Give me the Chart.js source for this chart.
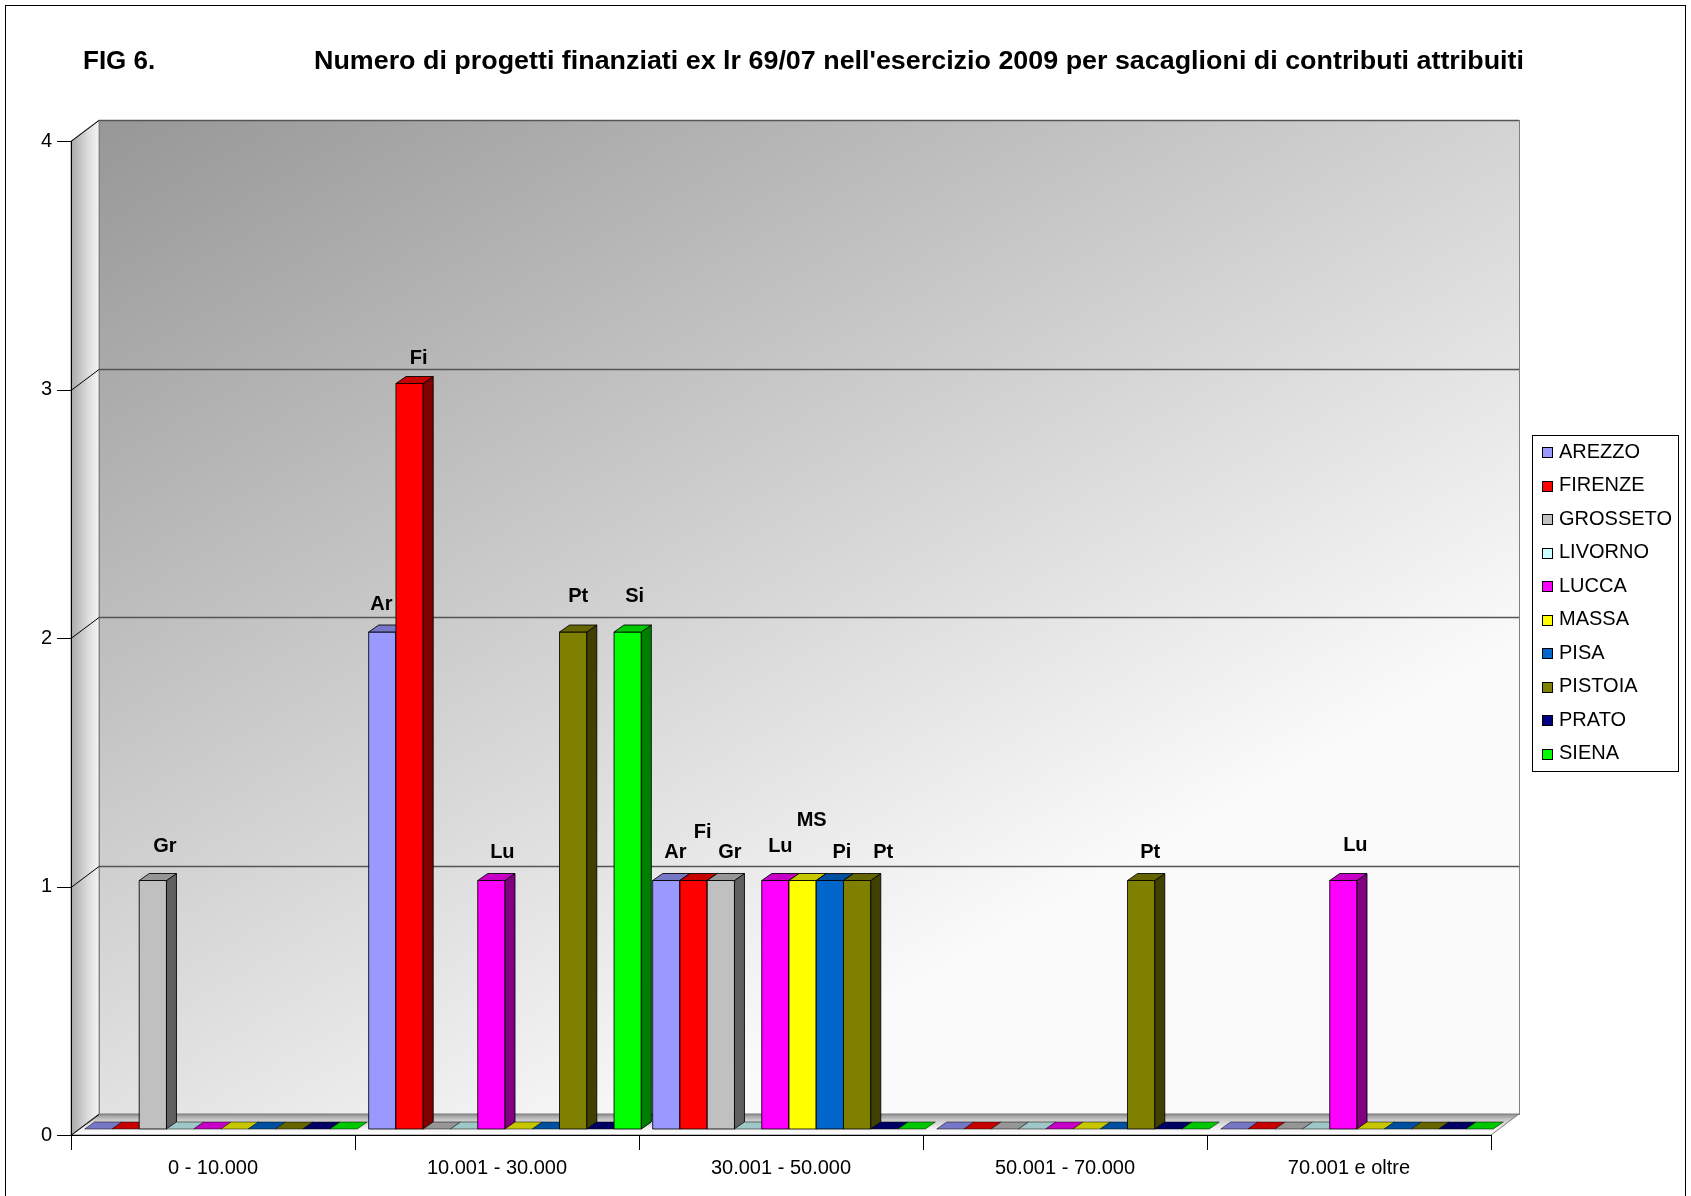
<!DOCTYPE html>
<html>
<head>
<meta charset="utf-8">
<script src="https://cdn.jsdelivr.net/npm/chart.js@4.4.1/dist/chart.umd.min.js"></script>
<style>
  html, body { margin: 0; padding: 0; background: #fff; }
</style>
</head>
<body>
<canvas id="fig6" width="1691" height="1196"></canvas>
<script>
// --- data ---
const categories = ['0 - 10.000', '10.001 - 30.000', '30.001 - 50.000', '50.001 - 70.000', '70.001 e oltre'];
const provinces = ['AREZZO', 'FIRENZE', 'GROSSETO', 'LIVORNO', 'LUCCA', 'MASSA', 'PISA', 'PISTOIA', 'PRATO', 'SIENA'];
const shortNames = ['Ar', 'Fi', 'Gr', 'Li', 'Lu', 'MS', 'Pi', 'Pt', 'Pr', 'Si'];
const colors = ['#9999FF', '#FF0000', '#C0C0C0', '#CCFFFF', '#FF00FF', '#FFFF00', '#0066CC', '#808000', '#000080', '#00FF00'];

const arezzo   = [0, 2, 1, 0, 0];
const firenze  = [0, 3, 1, 0, 0];
const grosseto = [1, 0, 1, 0, 0];
const livorno  = [0, 0, 0, 0, 0];
const lucca    = [0, 1, 1, 0, 1];
const massa    = [0, 0, 1, 0, 0];
const pisa     = [0, 0, 1, 0, 0];
const pistoia  = [0, 2, 1, 1, 0];
const prato    = [0, 0, 0, 0, 0];
const siena    = [0, 2, 0, 0, 0];
const seriesValues = [arezzo, firenze, grosseto, livorno, lucca, massa, pisa, pistoia, prato, siena];

const yTicks = [0, 1, 2, 3, 4];

const titleLeft = 'FIG 6.';
const titleText = "Numero di progetti finanziati ex lr 69/07 nell'esercizio 2009 per sacaglioni di contributi attribuiti";

// a few value labels were nudged by hand in the original ('series,category' -> [dx, lift] px)
const labelNudge = {
    '2,0': [3, 6],
    '0,1': [-10, 0], '1,1': [0, -3], '4,1': [2, 0], '7,1': [-4, 8], '9,1': [-2, 8],
    '1,2': [0, 20], '4,2': [-4, 6], '5,2': [0, 32], '6,2': [3, 0], '7,2': [17, 0],
    '4,4': [3, 7]
};

// 3d geometry
const WALL_DX = 28, WALL_DY = -21;   // depth of the back wall
const BAR_OX = 8, BAR_OY = -6;       // bars sit a bit behind the front plane
const BAR_DX = 10, BAR_DY = -7;      // bar depth

function shade(hex, f) {
    const n = parseInt(hex.slice(1), 16);
    const r = Math.round(((n >> 16) & 255) * f);
    const g = Math.round(((n >> 8) & 255) * f);
    const b = Math.round((n & 255) * f);
    return `rgb(${r}, ${g}, ${b})`;
}

function poly(ctx, pts, fill, stroke) {
    ctx.beginPath();
    ctx.moveTo(pts[0][0], pts[0][1]);
    for (let i = 1; i < pts.length; i++) ctx.lineTo(pts[i][0], pts[i][1]);
    ctx.closePath();
    if (fill) { ctx.fillStyle = fill; ctx.fill(); }
    if (stroke) { ctx.strokeStyle = stroke; ctx.stroke(); }
}

const scenePlugin = {
    id: 'scene',
    beforeDraw(chart) {
        const ctx = chart.ctx;
        const a = chart.chartArea;
        const ys = chart.scales.y;
        const xs = chart.scales.x;
        ctx.save();
        ctx.fillStyle = '#fff';
        ctx.fillRect(0, 0, chart.width, chart.height);

        // outer frame
        ctx.lineWidth = 1;
        ctx.strokeStyle = '#000';
        ctx.strokeRect(5.5, 5.5, 1680, 1200);

        // titles
        ctx.fillStyle = '#000';
        ctx.textBaseline = 'middle';
        ctx.font = 'bold 26px "Liberation Sans", Arial, sans-serif';
        ctx.fillText(titleLeft, 83, 62);
        const tw = ctx.measureText(titleText).width;
        ctx.save();
        ctx.translate(314, 62);
        ctx.scale(1210 / tw, 1);
        ctx.fillText(titleText, 0, 0);
        ctx.restore();

        // back wall
        const bx0 = a.left + WALL_DX, bx1 = a.right + WALL_DX;
        const by0 = a.top + WALL_DY, by1 = a.bottom + WALL_DY;
        const g = ctx.createLinearGradient(bx0, by0, bx0 + 568, by0 + 1002);
        g.addColorStop(0, '#979797');
        g.addColorStop(1, '#fafafa');
        ctx.fillStyle = g;
        ctx.fillRect(bx0, by0, bx1 - bx0, by1 - by0);
        ctx.strokeStyle = '#808080';
        ctx.strokeRect(bx0 + 0.5, by0 + 0.5, bx1 - bx0, by1 - by0);

        // left side wall
        const lg = ctx.createLinearGradient(a.left, 0, bx0, 0);
        lg.addColorStop(0, '#a8a8a8');
        lg.addColorStop(0.6, '#dcdcdc');
        lg.addColorStop(1, '#f4f4f4');
        poly(ctx, [[a.left, a.top], [bx0, by0], [bx0, by1], [a.left, a.bottom]], lg, '#8a8a8a');

        // floor
        const fg = ctx.createLinearGradient(0, by1, 0, a.bottom);
        fg.addColorStop(0, '#8e8e8e');
        fg.addColorStop(0.25, '#c4c4c4');
        fg.addColorStop(0.7, '#f2f2f2');
        fg.addColorStop(1, '#ffffff');
        poly(ctx, [[a.left, a.bottom], [a.right, a.bottom], [bx1, by1], [bx0, by1]], fg, '#7a7a7a');

        // gridlines and y ticks
        yTicks.forEach(v => {
            const py = Math.round(ys.getPixelForValue(v)) + 0.5;
            ctx.strokeStyle = '#000';
            ctx.lineWidth = 1;
            ctx.beginPath();
            ctx.moveTo(a.left - 14, py);
            ctx.lineTo(a.left, py);
            ctx.lineTo(bx0, py + WALL_DY);
            ctx.stroke();
            if (v > 0) {
                ctx.strokeStyle = '#555';
                ctx.lineWidth = 1.5;
                ctx.beginPath();
                ctx.moveTo(bx0, py + WALL_DY);
                ctx.lineTo(bx1, py + WALL_DY);
                ctx.stroke();
            }
        });

        // axes
        ctx.strokeStyle = '#000';
        ctx.lineWidth = 1;
        ctx.beginPath();
        ctx.moveTo(a.left + 0.5, a.top);
        ctx.lineTo(a.left + 0.5, a.bottom);
        ctx.moveTo(a.left, a.bottom + 0.5);
        ctx.lineTo(a.right, a.bottom + 0.5);
        const step = (a.right - a.left) / categories.length;
        for (let i = 0; i <= categories.length; i++) {
            const px = Math.round(xs.getPixelForValue(i) - step / 2) + 0.5;
            ctx.moveTo(px, a.bottom);
            ctx.lineTo(px, a.bottom + 15);
        }
        ctx.stroke();

        // legend
        const lx = 1532, ly = 435, lw = 146, lh = 336;
        ctx.fillStyle = '#fff';
        ctx.fillRect(lx, ly, lw, lh);
        ctx.strokeStyle = '#000';
        ctx.strokeRect(lx + 0.5, ly + 0.5, lw, lh);
        ctx.font = '20px "Liberation Sans", Arial, sans-serif';
        ctx.textBaseline = 'middle';
        provinces.forEach((name, i) => {
            const cy = ly + 17 + i * 33.55;
            ctx.fillStyle = colors[i];
            ctx.fillRect(lx + 10, Math.round(cy - 5), 11, 11);
            ctx.strokeStyle = '#000';
            ctx.strokeRect(lx + 10.5, Math.round(cy - 5) + 0.5, 10, 10);
            ctx.fillStyle = '#000';
            ctx.fillText(name, lx + 27, cy);
        });
        ctx.restore();
    },
    beforeDatasetsDraw(chart) {
        const ctx = chart.ctx;
        ctx.save();
        ctx.lineWidth = 1;
        ctx.lineJoin = 'round';
        const edge = 'rgba(0,0,0,0.85)';
        const labels = [];
        chart.data.datasets.forEach((ds, i) => {
            const meta = chart.getDatasetMeta(i);
            meta.data.forEach((bar, j) => {
                const p = bar.getProps(['x', 'y', 'base', 'width'], true);
                const x0 = p.x - p.width / 2 + BAR_OX, x1 = p.x + p.width / 2 + BAR_OX;
                const yt = p.y + BAR_OY, yb = p.base + BAR_OY;
                const c = colors[i];
                const top = [[x0, yt], [x1, yt], [x1 + BAR_DX, yt + BAR_DY], [x0 + BAR_DX, yt + BAR_DY]];
                if (ds.data[j] > 0) {
                    poly(ctx, [[x0, yt], [x1, yt], [x1, yb], [x0, yb]], c, edge);
                    poly(ctx, [[x1, yt], [x1 + BAR_DX, yt + BAR_DY], [x1 + BAR_DX, yb + BAR_DY], [x1, yb]], shade(c, 0.5), edge);
                    poly(ctx, top, shade(c, 0.78), edge);
                    const n = labelNudge[i + ',' + j] || [0, 0];
                    labels.push([shortNames[i], (x0 + x1) / 2 + BAR_DX / 2 + 4 + n[0], yt - 28 - n[1]]);
                } else {
                    poly(ctx, top, shade(c, 0.78), 'rgba(0,0,0,0.5)');
                }
            });
        });
        ctx.fillStyle = '#000';
        ctx.font = 'bold 20px "Liberation Sans", Arial, sans-serif';
        ctx.textAlign = 'center';
        ctx.textBaseline = 'middle';
        labels.forEach(l => ctx.fillText(l[0], l[1], l[2]));
        ctx.restore();
        return false;
    }
};

new Chart(document.getElementById('fig6'), {
    type: 'bar',
    data: {
        labels: categories,
        datasets: provinces.map((name, i) => ({
            label: name,
            data: seriesValues[i],
            backgroundColor: colors[i],
            categoryPercentage: 0.96,
            barPercentage: 1.0
        }))
    },
    options: {
        responsive: false,
        animation: false,
        devicePixelRatio: 1,
        layout: { padding: { left: 0, top: 141, right: 200, bottom: 0 } },
        plugins: {
            legend: { display: false },
            title: { display: false },
            tooltip: { enabled: false }
        },
        scales: {
            x: {
                grid: { display: false, drawTicks: false },
                border: { display: false },
                ticks: {
                    color: '#000',
                    padding: 21,
                    maxRotation: 0,
                    font: { family: '"Liberation Sans", Arial, sans-serif', size: 20 }
                },
                afterFit(scale) { scale.height = 61; }
            },
            y: {
                min: 0,
                max: 4,
                grid: { display: false, drawTicks: false },
                border: { display: false },
                afterBuildTicks(scale) { scale.ticks = yTicks.map(v => ({ value: v })); },
                ticks: {
                    color: '#000',
                    padding: 19,
                    font: { family: '"Liberation Sans", Arial, sans-serif', size: 20 }
                },
                afterFit(scale) { scale.width = 71; }
            }
        }
    },
    plugins: [scenePlugin]
});
</script>
</body>
</html>
